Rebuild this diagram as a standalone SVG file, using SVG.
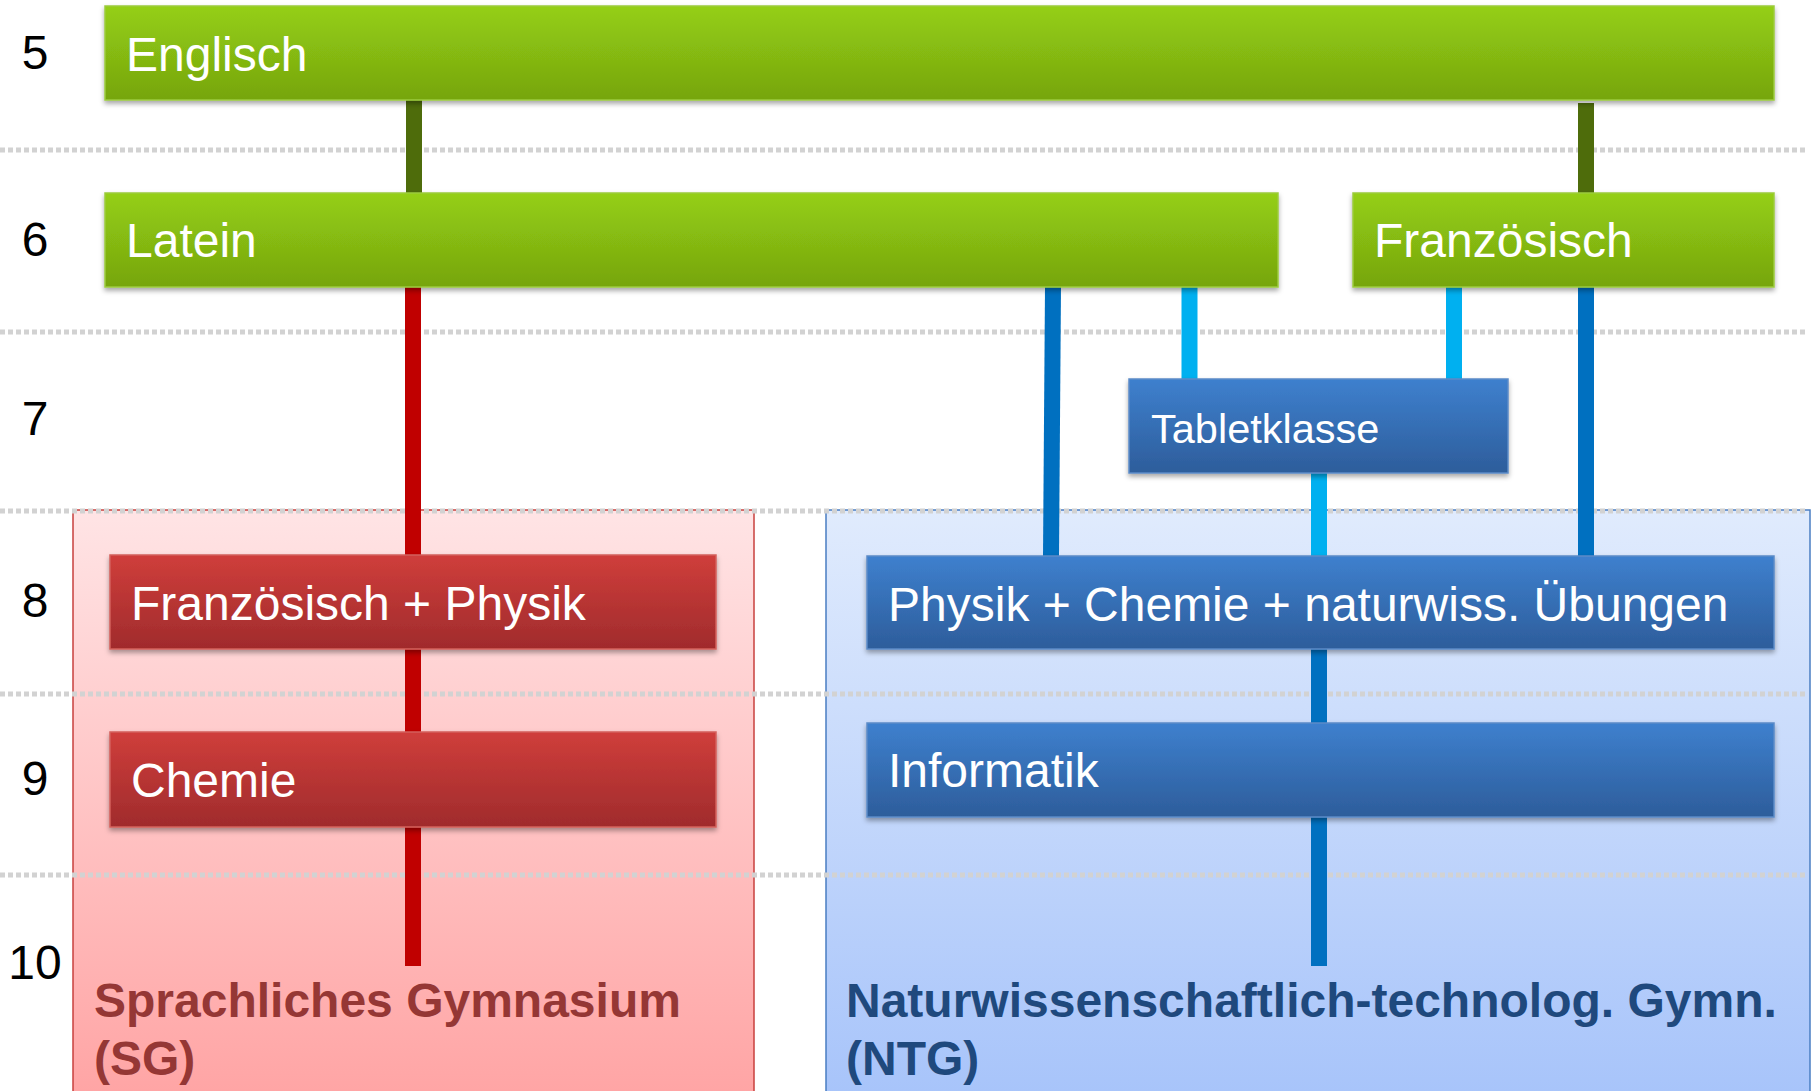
<svg xmlns="http://www.w3.org/2000/svg" width="1818" height="1091" viewBox="0 0 1818 1091">
<defs>
<linearGradient id="gGreen" x1="0" y1="0" x2="0" y2="1"><stop offset="0" stop-color="#95CF14"/><stop offset="1" stop-color="#76A50F"/></linearGradient>
<linearGradient id="gRed" x1="0" y1="0" x2="0" y2="1"><stop offset="0" stop-color="#CF3E3B"/><stop offset="1" stop-color="#A02B2C"/></linearGradient>
<linearGradient id="gBlue" x1="0" y1="0" x2="0" y2="1"><stop offset="0" stop-color="#3E80CE"/><stop offset="1" stop-color="#2D5D9B"/></linearGradient>
<linearGradient id="gSG" x1="0" y1="0" x2="0" y2="1"><stop offset="0" stop-color="#FFE4E5"/><stop offset="1" stop-color="#FFA3A3"/></linearGradient>
<linearGradient id="gNTG" x1="0" y1="0" x2="0" y2="1"><stop offset="0" stop-color="#E0EBFD"/><stop offset="1" stop-color="#A6C3FA"/></linearGradient>
<filter id="sh" x="-5%" y="-20%" width="110%" height="150%"><feDropShadow dx="0" dy="3" stdDeviation="2.5" flood-color="#000" flood-opacity="0.35"/></filter>
</defs>
<style>
.num{font-family:"Liberation Sans",Arial,sans-serif;font-size:48px;fill:#000;text-anchor:middle}
.lbl{font-family:"Liberation Sans",Arial,sans-serif;font-size:48px;fill:#fff}
.small{font-size:41.5px}
.green{fill:url(#gGreen);stroke:#9CCB3C;stroke-width:1.5;filter:url(#sh)}
.red{fill:url(#gRed);stroke:#D4605C;stroke-width:1.5;filter:url(#sh)}
.blue{fill:url(#gBlue);stroke:#5B8BC7;stroke-width:1.5;filter:url(#sh)}
.grp{font-family:"Liberation Sans",Arial,sans-serif;font-size:48px;font-weight:bold}
.dot{stroke:#D2D2D2;stroke-width:5;stroke-dasharray:5 3;fill:none}
.c{fill:none;stroke-width:16}
</style>
<rect width="1818" height="1091" fill="#fff"/>
<g id="sg">
<rect x="73" y="510" width="681" height="600" fill="url(#gSG)" stroke="#C8403E" stroke-width="1.5"/>
<text class="grp" fill="#953735" x="94" y="1017">Sprachliches Gymnasium</text>
<text class="grp" fill="#953735" x="94" y="1075">(SG)</text>
</g>
<g id="ntg">
<rect x="826" y="510" width="984" height="600" fill="url(#gNTG)" stroke="#4A7EC2" stroke-width="1.5"/>
<text class="grp" fill="#1F497D" x="846" y="1017">Naturwissenschaftlich-technolog. Gymn.</text>
<text class="grp" fill="#1F497D" x="846" y="1075">(NTG)</text>
</g>
<g id="grid">
<line class="dot" x1="0" y1="150" x2="1808" y2="150"/>
<line class="dot" x1="0" y1="332" x2="1808" y2="332"/>
<line class="dot" x1="0" y1="511" x2="1808" y2="511"/>
<line class="dot" x1="0" y1="694" x2="1808" y2="694"/>
<line class="dot" x1="0" y1="875" x2="1808" y2="875"/>
</g>
<g id="years">
<text class="num" x="35" y="69">5</text>
<text class="num" x="35" y="256">6</text>
<text class="num" x="35" y="435">7</text>
<text class="num" x="35" y="617">8</text>
<text class="num" x="35" y="795">9</text>
<text class="num" x="35" y="979">10</text>
</g>
<g id="connectors">
<line class="c" stroke="#4E6C0B" x1="414" y1="100" x2="414" y2="193"/>
<line class="c" stroke="#4E6C0B" x1="1586" y1="103" x2="1586" y2="193"/>
<line class="c" stroke="#C00000" x1="413" y1="287" x2="413" y2="966"/>
<line class="c" stroke="#0070C0" x1="1053" y1="287" x2="1051" y2="556"/>
<line class="c" stroke="#0070C0" x1="1586" y1="287" x2="1586" y2="556"/>
<line class="c" stroke="#00B0F0" x1="1189.5" y1="287" x2="1189.5" y2="379"/>
<line class="c" stroke="#00B0F0" x1="1454" y1="287" x2="1454" y2="379"/>
<line class="c" stroke="#00B0F0" x1="1319" y1="473" x2="1319" y2="556"/>
<line class="c" stroke="#0070C0" x1="1319" y1="649" x2="1319" y2="723"/>
<line class="c" stroke="#0070C0" x1="1319" y1="816" x2="1319" y2="966"/>
</g>
<g id="englisch"><rect class="green" x="105" y="6" width="1669" height="94"/><text class="lbl" x="126" y="71">Englisch</text></g>
<g id="latein"><rect class="green" x="105" y="193" width="1173" height="94"/><text class="lbl" x="126" y="257">Latein</text></g>
<g id="franzoesisch"><rect class="green" x="1353" y="193" width="421" height="94"/><text class="lbl" x="1374" y="257">Französisch</text></g>
<g id="tabletklasse"><rect class="blue" x="1129" y="379" width="379" height="94"/><text class="lbl small" x="1151" y="443">Tabletklasse</text></g>
<g id="frz-physik"><rect class="red" x="110" y="555" width="606" height="94"/><text class="lbl" x="131" y="620">Französisch + Physik</text></g>
<g id="chemie"><rect class="red" x="110" y="732" width="606" height="95"/><text class="lbl" x="131" y="797">Chemie</text></g>
<g id="physik-chemie"><rect class="blue" x="867" y="556" width="907" height="93"/><text class="lbl" x="888" y="621">Physik + Chemie + naturwiss. Übungen</text></g>
<g id="informatik"><rect class="blue" x="867" y="723" width="907" height="94"/><text class="lbl" x="888" y="787">Informatik</text></g>
</svg>
